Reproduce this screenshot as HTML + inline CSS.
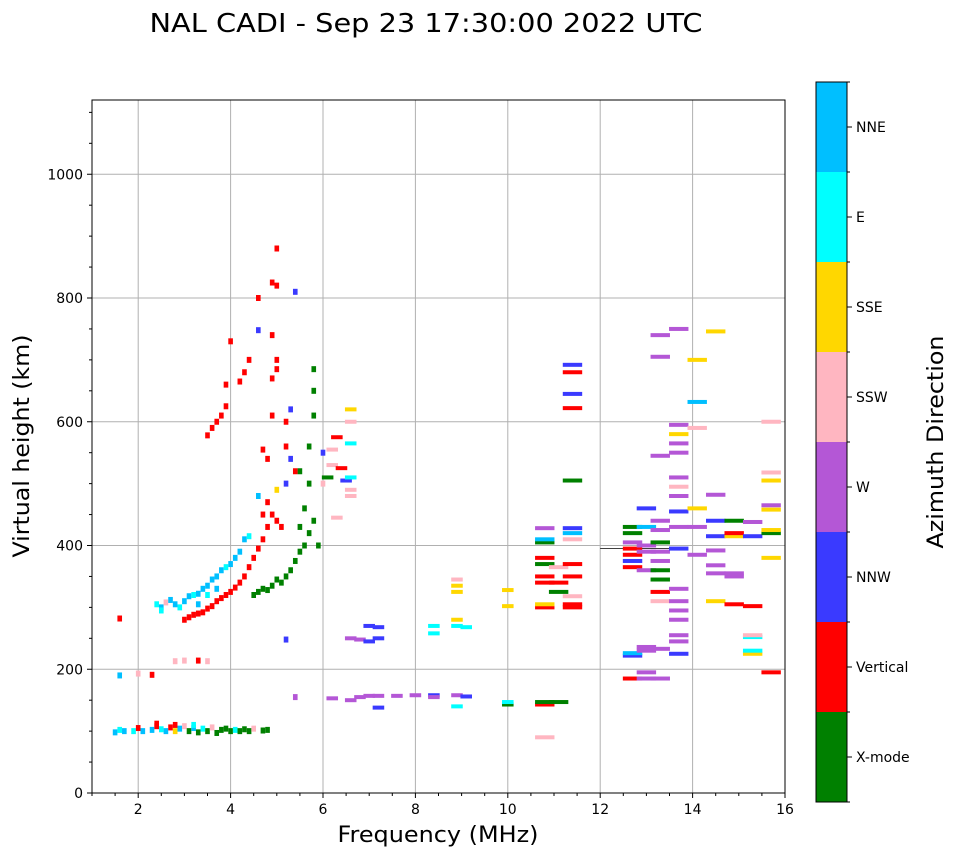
<!DOCTYPE html>
<html><head><meta charset="utf-8"><style>
body{margin:0;background:#fff;width:958px;height:857px;overflow:hidden;font-family:"DejaVu Sans","Liberation Sans",sans-serif;}
svg text{font-family:"DejaVu Sans","Liberation Sans",sans-serif;fill:#000}
</style></head><body>
<svg id="chart" width="958" height="857" xmlns="http://www.w3.org/2000/svg">
<text x="426" y="32" font-size="26" text-anchor="middle" textLength="553" lengthAdjust="spacingAndGlyphs">NAL CADI - Sep 23 17:30:00 2022 UTC</text>
<g id="grid"></g>
<g id="marks"></g>
<rect x="92" y="100" width="693" height="693" fill="none" stroke="#000" stroke-width="1"/>
<g id="axes"></g>
<text x="438" y="842" font-size="22" text-anchor="middle" textLength="201" lengthAdjust="spacingAndGlyphs">Frequency (MHz)</text>
<text transform="translate(29,446) rotate(-90)" font-size="22" text-anchor="middle" textLength="223" lengthAdjust="spacingAndGlyphs">Virtual height (km)</text>
<g id="cbar"></g>
<text transform="translate(943,442) rotate(-90)" font-size="22" text-anchor="middle" textLength="213" lengthAdjust="spacingAndGlyphs">Azimuth Direction</text>
</svg>
<script>
const xTicks=[2,4,6,8,10,12,14,16];
const yTicks=[0,200,400,600,800,1000];
const dirNames=["X-mode","Vertical","NNW","W","SSW","SSE","E","NNE"];
const dirColors=["#008000","#ff0000","#3a3aff","#b457d6","#ffb6c1","#ffd700","#00ffff","#00bfff"];
const freqs=[1.5,1.6,1.7,1.9,2.0,2.1,2.3,2.4,2.5,2.6,2.7,2.8,2.9,3.0,3.1,3.2,3.3,3.4,3.5,3.6,3.7,3.8,3.9,4.0,4.1,4.2,4.3,4.4,4.5,4.7,4.8,2.4,2.8,3.2,
1.6,2.0,2.3,2.8,3.0,3.3,3.5,
2.4,2.5,2.6,2.7,2.8,2.9,3.0,3.1,3.2,3.3,3.4,3.5,3.6,3.7,3.8,3.9,4.0,4.1,4.2,4.3,4.4,4.6,3.7,3.5,3.3,2.5,
3.0,3.1,3.2,3.3,3.4,3.5,3.6,3.7,3.8,3.9,4.0,4.1,4.2,4.3,4.4,4.5,4.6,4.7,4.8,4.9,5.0,5.1,4.7,4.8,1.6,
4.5,4.6,4.7,4.8,4.9,5.0,5.1,5.2,5.3,5.4,5.5,5.6,5.7,5.8,5.9,5.5,5.6,5.7,5.7,5.8,5.8,5.8,5.5,
3.5,3.6,3.7,3.8,3.9,3.9,4.0,4.2,4.3,4.4,4.6,4.8,4.9,4.9,4.9,5.0,5.0,5.0,5.0,4.9,5.2,5.2,4.7,5.4,5.0,4.6,5.3,5.2,5.3,5.4,
6.0,6.1,6.2,6.3,6.4,6.5,6.6,6.6,6.6,6.6,6.6,6.6,6.3,6.0,6.2,
5.2,6.6,6.8,7.0,7.0,7.2,7.2,8.4,8.4,8.9,8.9,8.9,8.9,8.9,9.1,10.0,10.0,
5.4,6.2,6.6,6.8,7.0,7.2,7.2,7.6,8.0,8.4,8.4,8.9,9.1,8.9,10.0,10.0,10.8,10.8,11.1,10.8,
10.8,10.8,10.8,10.8,10.8,10.8,10.8,10.8,10.8,11.1,11.1,11.1,11.4,11.4,11.4,11.4,11.4,11.4,11.4,11.4,11.4,11.4,11.4,11.4,11.4,
12.7,12.7,12.7,12.7,12.7,12.7,12.7,12.7,12.7,12.7,13.0,13.0,13.0,13.0,13.0,13.0,13.0,13.0,13.0,
13.3,13.3,13.3,13.3,13.3,13.3,13.3,13.3,13.3,13.3,13.3,13.3,13.3,13.3,
13.7,13.7,13.7,13.7,13.7,13.7,13.7,13.7,13.7,13.7,13.7,13.7,13.7,13.7,13.7,13.7,13.7,13.7,
14.1,14.1,14.1,14.1,14.1,14.1,14.5,14.5,14.5,14.5,14.5,14.5,14.5,14.5,
14.9,14.9,14.9,14.9,14.9,14.9,15.3,15.3,15.3,15.3,15.3,15.3,15.3,
15.7,15.7,15.7,15.7,15.7,15.7,15.7,15.7,15.7];
const heights=[98,102,100,100,105,100,102,108,103,100,106,100,104,108,100,105,98,104,100,106,97,102,104,100,102,100,103,100,104,101,102,112,110,110,
190,193,191,213,214,214,213,
305,300,308,312,305,300,310,318,320,322,330,335,345,350,360,365,370,380,390,410,415,480,330,320,305,295,
280,284,288,290,292,298,302,310,315,320,325,332,340,350,365,380,395,410,430,450,440,430,450,470,282,
320,325,330,328,335,345,340,350,360,375,390,400,420,440,400,430,460,500,560,610,650,685,520,
578,590,600,610,625,660,730,665,680,700,800,540,610,670,740,700,685,820,880,825,560,600,555,520,490,748,620,500,540,810,
500,510,530,575,525,505,490,480,510,565,600,620,445,550,555,
248,250,248,245,270,268,250,258,270,270,280,325,335,345,268,302,328,
155,153,150,155,157,157,138,157,158,158,155,158,156,140,143,147,143,147,147,90,
300,305,340,350,370,380,405,410,428,325,340,365,300,305,318,350,370,410,420,428,505,622,645,680,692,
185,222,226,365,375,385,395,405,420,430,185,195,230,236,360,390,400,430,460,
185,233,310,325,345,360,375,390,405,425,440,545,705,740,
225,245,255,280,295,310,330,395,430,455,480,495,510,550,565,580,595,750,
385,430,460,590,632,700,310,355,368,392,415,440,482,746,
305,350,355,415,420,440,302,225,230,252,255,415,438,
195,380,420,425,458,465,505,518,600];
const dirs=[7,6,7,6,1,7,7,1,6,7,1,5,7,4,0,7,0,6,0,4,0,0,0,0,6,0,0,0,4,0,0,1,1,6,
7,4,1,4,4,1,4,
6,7,4,7,7,6,7,7,6,7,7,7,7,7,7,6,7,7,7,7,6,7,7,6,7,6,
1,1,1,1,1,1,1,1,1,1,1,1,1,1,1,1,1,1,1,1,1,1,1,1,1,
0,0,0,0,0,0,0,0,0,0,0,0,0,0,0,0,0,0,0,0,0,0,0,
1,1,1,1,1,1,1,1,1,1,1,1,1,1,1,1,1,1,1,1,1,1,1,1,5,2,2,2,2,2,
4,0,4,1,1,2,4,4,6,6,4,5,4,2,4,
2,3,3,2,2,2,2,6,6,6,5,5,5,4,6,5,5,
3,3,3,3,3,3,2,3,3,2,3,3,2,6,0,6,1,0,0,4,
1,5,1,1,0,1,0,7,3,0,1,4,1,1,4,1,1,4,7,2,0,1,2,1,2,
1,2,7,1,2,1,1,3,0,0,3,3,3,3,3,3,3,7,2,
3,3,4,1,0,0,3,3,0,3,3,3,3,3,
2,3,3,3,3,3,3,2,3,2,3,4,3,3,3,5,3,3,
3,3,5,4,7,5,5,3,3,3,2,2,3,5,
1,3,3,5,1,0,1,5,6,6,4,2,3,
1,5,0,5,5,3,5,4,4];
const NS="http://www.w3.org/2000/svg";
const X0=92,X1=785,Y0=793,Y1=100;
function xs(f){return X0+(f-1)/(16-1)*(X1-X0);}
function ys(h){return Y0-h/1120*(Y0-Y1);}
function mk(tag,attrs,parent){const e=document.createElementNS(NS,tag);for(const k in attrs)e.setAttribute(k,attrs[k]);parent.appendChild(e);return e;}
const grid=document.getElementById('grid'),axes=document.getElementById('axes'),marks=document.getElementById('marks'),cbar=document.getElementById('cbar');
xTicks.forEach(t=>{const x=xs(t);
 if(t<16){const g=mk('line',{x1:x,x2:x,y1:Y1,y2:Y0,stroke:'#b0b0b0','stroke-width':1},grid);
 
 }
 mk('line',{x1:x,x2:x,y1:Y0,y2:Y0+5,stroke:'#000'},axes);
 const tx=mk('text',{x:x,y:Y0+21,'font-size':14,'text-anchor':'middle'},axes);tx.textContent=t;
 
 
});
for(let m=1;m<=16;m+=0.5){if(m%2===0)continue;const x=xs(m);mk('line',{x1:x,x2:x,y1:Y0,y2:Y0+3,stroke:'#000'},axes);}
yTicks.forEach(t=>{const y=ys(t);
 if(t>0){const g=mk('line',{x1:X0,x2:X1,y1:y,y2:y,stroke:'#b0b0b0','stroke-width':1},grid);
 
 }
 mk('line',{x1:X0-5,x2:X0,y1:y,y2:y,stroke:'#000'},axes);
 const tx=mk('text',{x:X0-9,y:y+5,'font-size':14,'text-anchor':'end'},axes);tx.textContent=t;
 
 
});
for(let m=0;m<=1100;m+=50){if(m%200===0)continue;const y=ys(m);mk('line',{x1:X0-3,x2:X0,y1:y,y2:y,stroke:'#000'},axes);}
const tl=mk('line',{x1:xs(12),x2:xs(13.8),y1:ys(395),y2:ys(395),stroke:'#000','stroke-width':0.8},marks);


for(let i=0;i<freqs.length;i++){
 const f=freqs[i],h=heights[i];
 const w=f<6.05?0.1:(f<10.5?0.25:0.42);
 const hh=f<6.05?6:4;
 const x=xs(f-w/2),x2=xs(f+w/2);
 const r=mk('rect',{x:x,y:ys(h)-hh/2,width:x2-x,height:hh,fill:dirColors[dirs[i]]},marks);
 
 
}
const CB0=82,CB1=802,CX=816,CW=31,bh=(CB1-CB0)/dirNames.length;
dirNames.forEach((n,i)=>{const y=CB1-(i+1)*bh;
 const r=mk('rect',{x:CX,y:y,width:CW,height:bh,fill:dirColors[i]},cbar);
 
 
 mk('line',{x1:CX+CW,x2:CX+CW+5,y1:y+bh/2,y2:y+bh/2,stroke:'#000'},cbar);
 const t=mk('text',{x:CX+CW+9,y:y+bh/2+5,'font-size':14},cbar);t.textContent=n;
 
 
});
for(let i=0;i<=dirNames.length;i++){const y=CB1-i*bh;mk('line',{x1:CX+CW,x2:CX+CW+3,y1:y,y2:y,stroke:'#000'},cbar);}
mk('rect',{x:CX,y:CB0,width:CW,height:CB1-CB0,fill:'none',stroke:'#000'},cbar);
</script>
</body></html>
